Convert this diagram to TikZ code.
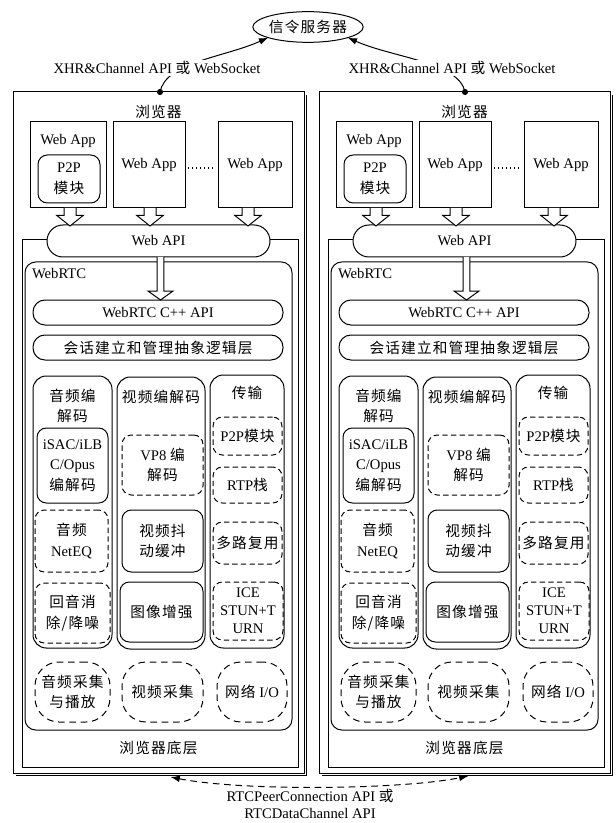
\documentclass[tikz,border=0pt]{standalone}
\usepackage{fontspec}
\setmainfont{Liberation Serif}
\newfontfamily\cjk[LetterSpace=8]{Noto Sans CJK SC}
\usetikzlibrary{arrows.meta,calc,shapes.geometric}
\newcommand\zh[1]{{\cjk #1}}
\tikzset{
  txt/.style={inner sep=0pt, outer sep=0pt, align=center, font=\fontsize{11}{15.5}\selectfont},
  frame/.style={txt, draw, line width=0.75pt},
  rbox/.style={frame, rounded corners=7pt},
  dbox/.style={rbox, dash pattern=on 4pt off 2.5pt},
  blob/.style={frame, rounded corners=18pt, dash pattern=on 5pt off 3.5pt},
  pill/.style={frame, fill=white, rounded corners=9pt},
  hollow/.style={draw, fill=white, line width=0.75pt, line join=miter},
  dotsline/.style={line width=1pt, dash pattern=on 0.8pt off 2.2pt},
  conn/.style={line width=0.75pt},
}
% \bx{name}{x1}{y1}{x2}{y2}{style}{text}
\newcommand\bx[7]{\node[#6, minimum width={(#4-#2)*0.75pt}, minimum height={(#5-#3)*0.75pt}] (#1) at ({(#2+#4)/2},{(#3+#5)/2}) {#7};}
% \harrow{start}{tip}{half stem}{half head}{head length}
\newcommand\harrow[5]{\draw[hollow] let \p1=#1, \p2=#2 in
  (\x1-#3,\y1) -- (\x1-#3,\y2+#5) -- (\x1-#4,\y2+#5) -- (\x1,\y2) -- (\x1+#4,\y2+#5) -- (\x1+#3,\y2+#5) -- (\x1+#3,\y1);}
\newcommand\browser[1]{%
  \bx{#1out}{13}{92}{304}{773}{frame}{}
  \draw[conn] ($(#1out.south west)+(3,2.5)$) -| ($(#1out.north east)+(2.5,3)$);
  \node[txt] (#1lab) at (158.5,112) {\zh{浏览器}};
  \bx{#1inner}{22}{240}{298}{767}{frame}{}
  \bx{#1a1}{30}{122}{106}{208}{frame}{}
  \node[txt] (#1a1t) at (68,141) {Web App};
  \bx{#1p2p}{38}{155}{100}{203}{rbox}{P2P\\\zh{模块}}
  \bx{#1a2}{113}{122}{185}{208}{frame}{Web App}
  \bx{#1a3}{218}{122}{292}{208}{frame}{Web App}
  \draw[dotsline] ($(#1a2.east)+(3,3)$) -- ($(#1a3.west)+(-3,3)$);
  \bx{#1webrtc}{25}{262}{292}{730}{frame, rounded corners=8pt}{}
  \node[txt, anchor=west] (#1wt) at (32,274) {WebRTC};
  \node[txt] (#1bottom) at (158.5,748) {\zh{浏览器底层}};
  \bx{#1api}{47}{225}{270}{257}{pill, rounded corners=12pt}{Web API}
  \bx{#1cpp}{33}{300}{283}{325}{pill}{WebRTC C++ API}
  \bx{#1sess}{33}{335}{283}{360}{pill}{\zh{会话建立和管理抽象逻辑层}}
  \harrow{($(#1a1.south)+(2,0)$)}{($(#1a1.south |- #1api.north)+(2,1)$)}{4.5pt}{10pt}{8pt}
  \harrow{($(#1a2.south)+(1,0)$)}{($(#1a2.south |- #1api.north)+(1,1)$)}{4.5pt}{10pt}{8pt}
  \harrow{($(#1a3.south)+(-7,0)$)}{($(#1a3.south |- #1api.north)+(-7,1)$)}{4.5pt}{10pt}{8pt}
  \harrow{($(#1api.south)+(2,0)$)}{($(#1api.south |- #1cpp.north)+(2,0)$)}{2.6pt}{9.4pt}{6.75pt}
  \bx{#1ca}{33}{376}{112}{648}{frame, rounded corners=10pt}{}
  \bx{#1cv}{117}{377}{205}{649}{frame, rounded corners=10pt}{}
  \bx{#1ct}{210}{375}{284}{648}{frame, rounded corners=10pt}{}
  \node[txt] (#1tca) at (72.5,406) {\zh{音频编}\\\zh{解码}};
  \node[txt] (#1tcv) at (161,397) {\zh{视频编解码}};
  \node[txt] (#1tct) at (247,393) {\zh{传输}};
  \bx{#1isac}{37}{428}{108}{503}{rbox}{iSAC/iLB\\C/Opus\\\zh{编解码}}
  \bx{#1neteq}{35}{510}{108}{572}{dbox}{\zh{音频}\\NetEQ}
  \bx{#1aec}{35}{583}{110}{643}{dbox}{\zh{回音消}\\\zh{除/降噪}}
  \bx{#1vp8}{122}{435}{203}{495}{dbox}{VP8 \zh{编}\\\zh{解码}}
  \bx{#1jit}{122}{510}{203}{572}{rbox}{\zh{视频抖}\\\zh{动缓冲}}
  \bx{#1enh}{120}{582}{203}{642}{rbox}{\zh{图像增强}}
  \bx{#1tp}{213}{417}{282}{455}{dbox}{P2P\zh{模块}}
  \bx{#1rtp}{213}{467}{282}{503}{dbox}{RTP\zh{栈}}
  \bx{#1mux}{213}{522}{282}{564}{dbox}{\zh{多路复用}}
  \bx{#1ice}{213}{582}{283}{640}{dbox, font=\fontsize{11}{13.5}\selectfont}{ICE\\STUN+T\\URN}
  \bx{#1acap}{35}{662}{110}{722}{blob}{\zh{音频采集}\\\zh{与播放}}
  \bx{#1vcap}{122}{662}{203}{722}{blob}{\zh{视频采集}}
  \bx{#1nio}{217}{662}{287}{722}{blob}{\zh{网络} I/O}
}
\begin{document}
\begin{tikzpicture}[x=0.75pt, y=-0.75pt]
  \useasboundingbox (0,0) rectangle (616,823);
  \browser{L}
  \begin{scope}[shift={(306,0)}]
    \browser{R}
  \end{scope}
  \node[frame, ellipse, minimum width=70pt, minimum height=23pt] (srv) at (308,27) {\zh{信令服务器}};
  \coordinate (Ldot) at ($(Lout.north)+(1.5,0)$);
  \coordinate (Rdot) at ($(Rout.north)+(0.5,0)$);
  \fill (Ldot) circle (2.3pt);
  \fill (Rdot) circle (2.3pt);
  \draw[conn, -{Latex[length=7pt,width=5pt]}] (Ldot) .. controls +(6,-30) and +(-45,20) .. (srv.195);
  \draw[conn, -{Latex[length=7pt,width=5pt]}] (Rdot) .. controls +(-6,-30) and +(45,20) .. (srv.345);
  \node[txt, fill=white, inner sep=1pt] (Llab) at (157,68) {XHR\&Channel API \zh{或} WebSocket};
  \node[txt, fill=white, inner sep=1pt] (Rlab) at (452,68) {XHR\&Channel API \zh{或} WebSocket};
  \coordinate (Lb) at ($(Lout.south)+(12,4)$);
  \coordinate (Rb) at ($(Rout.south)+(4,3)$);
  \draw[conn, dash pattern=on 5pt off 3.5pt, {Latex[length=7pt,width=5pt]}-{Latex[length=7pt,width=5pt]}] (Lb) .. controls +(70,14) and +(-70,14) .. (Rb);
  \node[txt, font=\fontsize{11}{12.5}\selectfont] (rtc) at (310,804) {RTCPeerConnection API \zh{或}\\RTCDataChannel API};
\end{tikzpicture}
\end{document}
